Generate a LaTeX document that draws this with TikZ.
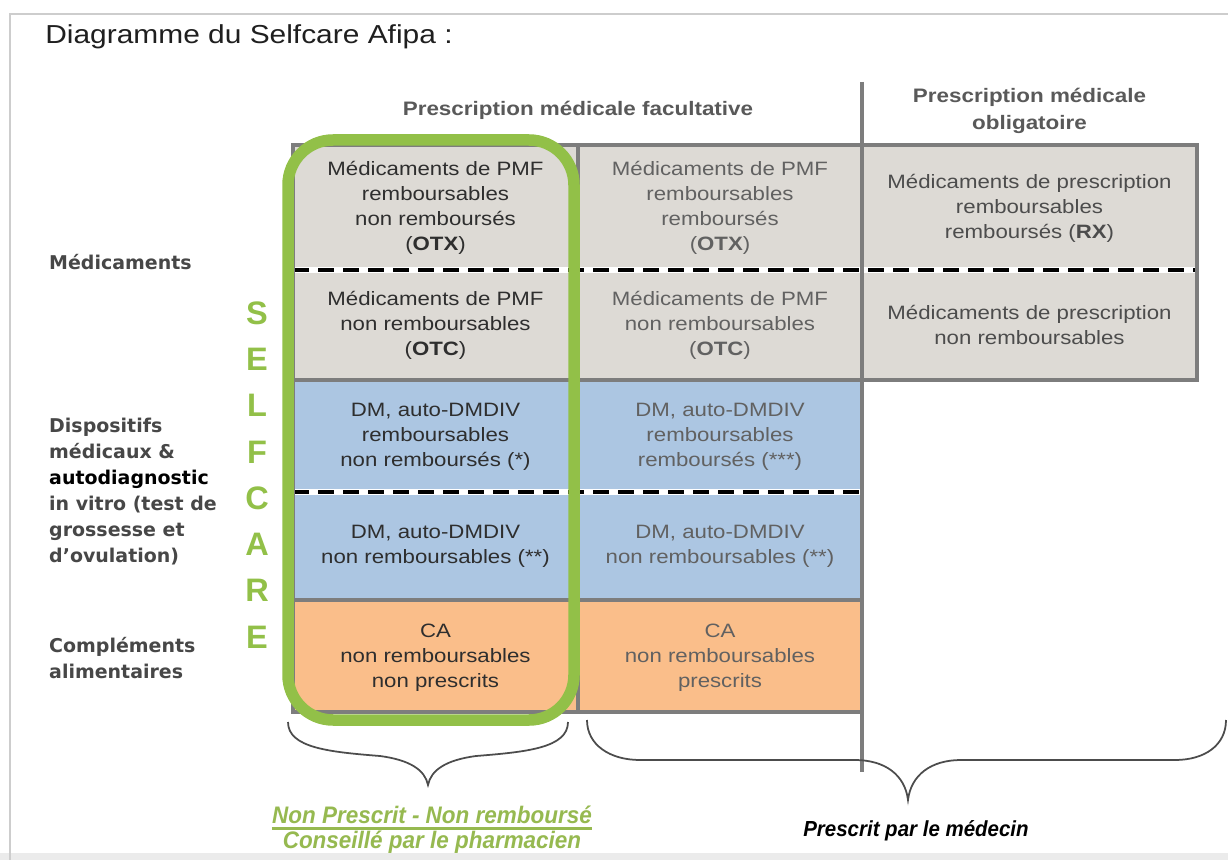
\documentclass[tikz,border=0pt]{standalone}
\usepackage{fontspec}
\setmainfont[FakeStretch=1.15]{Liberation Sans}
\newfontfamily\plainsans{Liberation Sans}
\newfontfamily\narrowsans[FakeStretch=0.94]{Liberation Sans}
\newfontfamily\labelsans{DejaVu Sans}
\usepackage{tikz}
\definecolor{cellgray}{RGB}{221,218,213}
\definecolor{cellblue}{RGB}{172,198,226}
\definecolor{cellorange}{RGB}{250,190,138}
\definecolor{gridgray}{RGB}{125,125,125}
\definecolor{selfgreen}{RGB}{146,192,72}
\definecolor{notegreen}{RGB}{150,185,80}
\definecolor{framegray}{RGB}{205,205,205}

\begin{document}
\begin{tikzpicture}[x=0.2mm, y=-0.2mm,
    celltext/.style={align=center, font=\fontsize{11}{14.2}\selectfont},
    sidelabel/.style={anchor=west, align=left, text=black!72, font=\labelsans\bfseries\fontsize{10.8}{14.8}\selectfont},
    headtext/.style={align=center, text=black!65, font=\bfseries\fontsize{11.1}{15.2}\selectfont},
    gridline/.style={gridgray, line width=0.8mm},
    dashline/.style={black, line width=0.8mm, dash pattern=on 3.2mm off 1.8mm},
    bracepath/.style={black!70, line width=0.35mm}]
    \useasboundingbox (0,0) rectangle (1228,860);
    \fill[white] (0,0) rectangle (1228,860);
    \fill[black!8] (0,853) rectangle (1228,860);
    \draw[framegray, line width=0.5mm] (10,860) -- (10,14) -- (1228,14);

    \node[anchor=base west, inner sep=0, text=black!88, font=\fontsize{14.8}{17}\selectfont] (title) at (45,44) {Diagramme du Selfcare Afipa :};

    % headers
    \node[headtext] (pmf) at (578,110) {Prescription médicale facultative};
    \node[headtext] (pmo) at (1029.5,111) {Prescription médicale\\obligatoire};

    % cells
    \fill[cellgray] (293,145) rectangle (1197,380);
    \fill[cellblue] (293,380) rectangle (862,600);
    \fill[cellorange] (293,600) rectangle (862,712);
    \draw[white, line width=1.2mm] (293,270) -- (1197,270) (293,492) -- (862,492);
    \draw[dashline] (293,270) -- (1197,270);
    \draw[dashline] (293,492) -- (862,492);
    \draw[gridline] (293,145) rectangle (1197,380);
    \draw[gridline] (293,380) rectangle (862,712) (293,600) -- (862,600);
    \draw[gridline] (578,145) -- (578,712);
    \draw[gridline] (862,82) -- (862,772);

    \node[celltext, text=black!82] (otxn) at (435.5,208) {Médicaments de PMF\\remboursables\\non remboursés\\(\textbf{OTX})};
    \node[celltext, text=black!62] (otxr) at (720,208) {Médicaments de PMF\\remboursables\\remboursés\\(\textbf{OTX})};
    \node[celltext, text=black!70] (rxr) at (1029.5,208) {Médicaments de prescription\\remboursables\\remboursés (\textbf{RX})};
    \node[celltext, text=black!82] (otcn) at (435.5,325) {Médicaments de PMF\\non remboursables\\(\textbf{OTC})};
    \node[celltext, text=black!62] (otcr) at (720,325) {Médicaments de PMF\\non remboursables\\(\textbf{OTC})};
    \node[celltext, text=black!70] (rxn) at (1029.5,325) {Médicaments de prescription\\non remboursables};
    \node[celltext, text=black!82] (dmn) at (435.5,437) {DM, auto-DMDIV\\remboursables\\non remboursés (*)};
    \node[celltext, text=black!62] (dmr) at (720,437) {DM, auto-DMDIV\\remboursables\\remboursés (***)};
    \node[celltext, text=black!82] (dmnn) at (435.5,546) {DM, auto-DMDIV\\non remboursables (**)};
    \node[celltext, text=black!62] (dmnr) at (720,546) {DM, auto-DMDIV\\non remboursables (**)};
    \node[celltext, text=black!82] (can) at (435.5,658) {CA\\non remboursables\\non prescrits};
    \node[celltext, text=black!62] (cap) at (720,658) {CA\\non remboursables\\prescrits};

    % row labels
    \node[sidelabel] (medic) at (43,262) {Médicaments};
    \node[sidelabel] (dispo) at (43,492) {Dispositifs\\médicaux \&\\\textcolor{black}{autodiagnostic}\\in vitro (test de\\grossesse et\\d’ovulation)};
    \node[sidelabel] (compl) at (43,658) {Compléments\\alimentaires};

    % selfcare
    \draw[selfgreen, line width=2.3mm, rounded corners=9mm] (288,140) rectangle (574,720);
    \foreach \ch [count=\i from 0] in {S,E,L,F,C,A,R,E}
        \node[text=selfgreen, font=\plainsans\bfseries\fontsize{18.5}{20}\selectfont] (self\i) at (257,313+46.3*\i) {\ch};

    % braces
    \draw[bracepath] (288,722) .. controls (288,748) and (330,752) .. (380,756) .. controls (410,760) and (425,770) .. (428,785) .. controls (431,770) and (446,760) .. (476,756) .. controls (526,752) and (568,748) .. (568,722);
    \draw[bracepath] (587,720) .. controls (587,745) and (610,760) .. (640,760) -- (855,760) .. controls (885,760) and (905,775) .. (908,800) .. controls (911,775) and (931,760) .. (961,760) -- (1175,760) .. controls (1205,760) and (1226,745) .. (1226,720);

    \node[inner sep=0, text=notegreen, font=\narrowsans\bfseries\itshape\fontsize{13.6}{16}\selectfont] (nonpresc) at (432,815) {Non Prescrit - Non remboursé};
    \draw[notegreen, line width=0.6mm] ([yshift=-3pt]nonpresc.base west) -- ([yshift=-3pt]nonpresc.base east);
    \node[inner sep=0, text=notegreen, font=\narrowsans\bfseries\itshape\fontsize{13.6}{16}\selectfont] (conseil) at (432,842) {Conseillé par le pharmacien};
    \node[inner sep=0, text=black, font=\narrowsans\bfseries\itshape\fontsize{12.4}{14}\selectfont] (presc) at (916,831) {Prescrit par le médecin};
\end{tikzpicture}
\end{document}
